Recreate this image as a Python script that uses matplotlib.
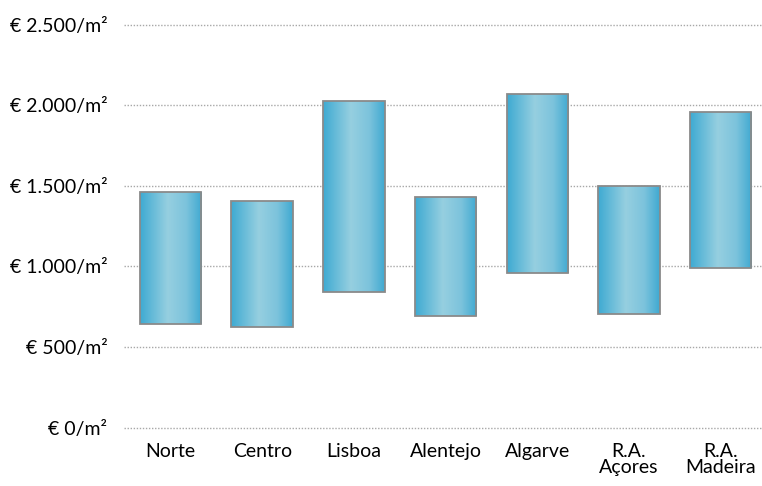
import matplotlib.pyplot as plt
import numpy as np
from matplotlib.colors import LinearSegmentedColormap
from matplotlib.patches import Rectangle

regions = ['Norte', 'Centro', 'Lisboa', 'Alentejo', 'Algarve', 'R.A.\nAçores', 'R.A.\nMadeira']
low = [645, 625, 841, 690, 959, 704, 992]
high = [1458, 1402, 2027, 1431, 2066, 1500, 1959]
yticks = [0, 500, 1000, 1500, 2000, 2500]
ytick_labels = ['€ 0/m²', '€ 500/m²', '€ 1.000/m²', '€ 1.500/m²', '€ 2.000/m²', '€ 2.500/m²']

plt.rcParams['font.family'] = ['Lato', 'DejaVu Sans']

fig = plt.figure(figsize=(7.62, 4.86), dpi=100)
ax = fig.add_axes([124 / 762, 58.5 / 486, 638 / 762, 403 / 486])

cmap = LinearSegmentedColormap.from_list(
    'bar', [(0, '#3eaad2'), (0.45, '#96cfe0'), (0.75, '#7cc3dc'), (1, '#3fa9d1')])
grad = np.linspace(0, 1, 256).reshape(1, -1)

width = 0.67
x = np.arange(len(regions))
for xi, lo, hi in zip(x, low, high):
    x0 = xi - width / 2
    im = ax.imshow(grad, cmap=cmap, aspect='auto', extent=(x0, x0 + width, lo, hi),
                   zorder=3, interpolation='bilinear')
    rect = Rectangle((x0, lo), width, hi - lo, facecolor='none',
                     edgecolor='#8a8a8a', linewidth=1.3, zorder=4)
    ax.add_patch(rect)
    im.set_clip_path(rect)

for y in yticks:
    ax.axhline(y, color='#a8a8a8', linestyle=(0, (1, 1.2)), linewidth=1.0, zorder=1,
               clip_on=False)

ax.set_xlim(-0.507, 6.45)
ax.set_ylim(0, 2500)
ax.set_xticks(x)
ax.set_xticklabels(regions, fontsize=14, linespacing=0.98, va='top')
ax.set_yticks(yticks)
ax.set_yticklabels(ytick_labels, fontsize=14)
ax.tick_params(length=0)
ax.tick_params(axis='y', pad=12)
ax.tick_params(axis='x', pad=11)
for s in ax.spines.values():
    s.set_visible(False)

fig.savefig('out.png', dpi=100)
